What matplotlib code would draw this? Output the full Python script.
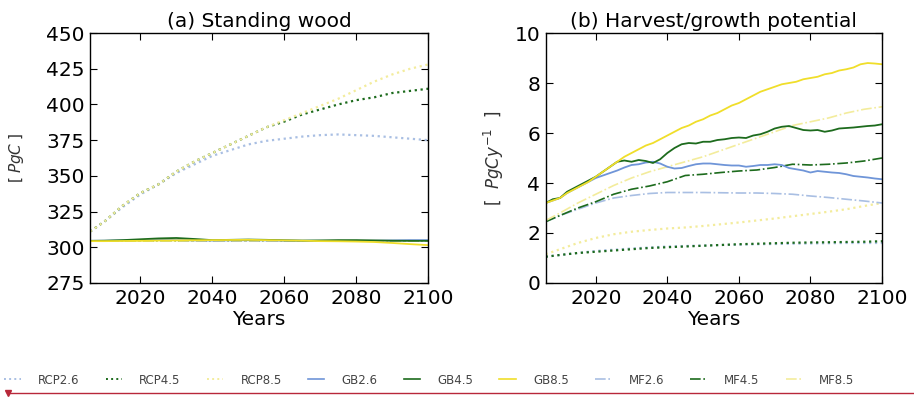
import matplotlib
matplotlib.use("Agg")
import matplotlib.pyplot as plt
from matplotlib.lines import Line2D

# ---------------- data ----------------
years2 = list(range(2006, 2101, 2))
years5 = [2006, 2010, 2015, 2020, 2025, 2030, 2035, 2040, 2045, 2050,
          2055, 2060, 2065, 2070, 2075, 2080, 2085, 2090, 2095, 2100]

# (a) Standing wood [PgC]
sw_rcp26 = [311, 318, 328, 337, 344, 352, 358, 364, 368, 372,
            374.5, 376, 377.5, 378.5, 379, 378.5, 378, 377, 376, 375]
sw_rcp45 = [311, 318, 329, 338, 344, 353, 360, 366, 372, 378,
            384, 388, 393, 396.5, 400, 403, 405, 408, 409.5, 411]
sw_rcp85 = [311, 318, 329, 338, 344, 353, 360, 366, 372, 378,
            384, 389, 394, 399, 404, 410, 416, 421, 425, 428]
sw_gb26 = [304.5, 304.6, 304.8, 305.0, 305.2, 305.0, 304.8, 304.7, 304.8, 304.9,
           304.8, 304.6, 304.5, 304.5, 304.4, 304.5, 304.6, 304.8, 305.0, 305.0]
sw_gb45 = [304.5, 304.6, 305.0, 305.6, 306.2, 306.5, 305.8, 305.0, 305.2, 305.4,
           305.2, 304.9, 304.7, 304.8, 305.0, 305.0, 304.8, 304.6, 304.5, 304.5]
sw_gb85 = [304.3, 304.3, 304.4, 304.5, 304.7, 304.8, 304.9, 305.0, 305.1, 305.2,
           305.0, 304.8, 304.6, 304.3, 304.2, 304.0, 303.7, 303.0, 302.2, 301.5]
sw_mf26 = [304.2] * 20
sw_mf45 = [304.3] * 20
sw_mf85 = [304.1] * 20

# (b) Harvest/growth potential [PgC y^-1]
hg_gb26 = [3.20, 3.30, 3.40, 3.60, 3.75, 3.90, 4.05, 4.20, 4.30, 4.40, 4.50, 4.62,
           4.72, 4.75, 4.82, 4.85, 4.78, 4.65, 4.58, 4.60, 4.68, 4.75, 4.78, 4.78,
           4.75, 4.72, 4.70, 4.70, 4.65, 4.68, 4.72, 4.72, 4.75, 4.72, 4.60, 4.55,
           4.50, 4.42, 4.48, 4.45, 4.42, 4.40, 4.35, 4.28, 4.25, 4.22, 4.18, 4.15]
hg_gb45 = [3.20, 3.35, 3.40, 3.65, 3.80, 3.95, 4.10, 4.25, 4.45, 4.65, 4.85, 4.90,
           4.85, 4.92, 4.88, 4.80, 4.95, 5.20, 5.40, 5.55, 5.60, 5.58, 5.65, 5.65,
           5.72, 5.75, 5.80, 5.82, 5.80, 5.90, 5.95, 6.05, 6.18, 6.25, 6.28, 6.20,
           6.12, 6.10, 6.12, 6.05, 6.10, 6.18, 6.20, 6.22, 6.25, 6.28, 6.30, 6.35]
hg_gb85 = [3.20, 3.30, 3.40, 3.60, 3.75, 3.90, 4.05, 4.25, 4.45, 4.65, 4.85, 5.05,
           5.20, 5.35, 5.50, 5.60, 5.75, 5.90, 6.05, 6.20, 6.30, 6.45, 6.55, 6.70,
           6.80, 6.95, 7.10, 7.20, 7.35, 7.50, 7.65, 7.75, 7.85, 7.95, 8.00, 8.05,
           8.15, 8.20, 8.25, 8.35, 8.40, 8.50, 8.55, 8.62, 8.75, 8.80, 8.78, 8.75]
hg_mf26 = [2.45, 2.70, 2.95, 3.20, 3.40, 3.50, 3.58, 3.62, 3.62, 3.62,
           3.61, 3.60, 3.60, 3.58, 3.55, 3.48, 3.42, 3.35, 3.28, 3.20]
hg_mf45 = [2.45, 2.70, 3.00, 3.25, 3.55, 3.75, 3.88, 4.05, 4.30, 4.35,
           4.42, 4.48, 4.52, 4.62, 4.75, 4.72, 4.75, 4.80, 4.88, 5.00]
hg_mf85 = [2.50, 2.80, 3.20, 3.55, 3.90, 4.20, 4.45, 4.65, 4.85, 5.05,
           5.30, 5.55, 5.80, 6.05, 6.30, 6.45, 6.60, 6.80, 6.95, 7.05]
hg_rcp26 = [1.05, 1.12, 1.20, 1.28, 1.33, 1.38, 1.42, 1.46, 1.48, 1.50,
            1.52, 1.53, 1.55, 1.56, 1.57, 1.58, 1.59, 1.60, 1.60, 1.60]
hg_rcp45 = [1.05, 1.12, 1.20, 1.25, 1.30, 1.35, 1.40, 1.43, 1.46, 1.49,
            1.52, 1.55, 1.57, 1.59, 1.61, 1.62, 1.63, 1.64, 1.65, 1.67]
hg_rcp85 = [1.15, 1.35, 1.60, 1.80, 1.95, 2.05, 2.12, 2.18, 2.22, 2.28,
            2.35, 2.42, 2.50, 2.58, 2.67, 2.76, 2.85, 2.95, 3.08, 3.20]

labels = ["RCP2.6", "RCP4.5", "RCP8.5", "GB2.6", "GB4.5", "GB8.5",
          "MF2.6", "MF4.5", "MF8.5"]

# ---------------- style ----------------
c26 = "#6f95d8"
c26l = "#a9bfe3"
c45 = "#1d6b1d"
c85 = "#f0de2a"
c85l = "#f3ec9c"

FS = 14.5
plt.rcParams["font.family"] = ["DejaVu Sans"]
fig = plt.figure(figsize=(9.14, 3.98), dpi=100)
ax1 = fig.add_axes([0.0985, 0.289, 0.370, 0.628])
ax2 = fig.add_axes([0.597, 0.289, 0.368, 0.628])

def style(ax):
    ax.tick_params(direction="in", top=True, right=True, length=5, width=0.8,
                   labelsize=FS, pad=4)
    for s in ax.spines.values():
        s.set_linewidth(1.0)
    ax.set_xlim(2006, 2100)
    ax.set_xticks([2020, 2040, 2060, 2080, 2100])
    ax.set_xlabel("Years", fontsize=FS, labelpad=2)

# (a)
ax1.plot(years5, sw_rcp26, ls=":", lw=1.6, color=c26l)
ax1.plot(years5, sw_rcp45, ls=":", lw=1.6, color=c45)
ax1.plot(years5, sw_rcp85, ls=":", lw=1.6, color=c85l)
ax1.plot(years5, sw_mf26, ls="-.", lw=1.2, color=c26l)
ax1.plot(years5, sw_mf45, ls="-.", lw=1.2, color=c45)
ax1.plot(years5, sw_mf85, ls="-.", lw=1.2, color=c85l)
ax1.plot(years5, sw_gb26, ls="-", lw=1.3, color=c26)
ax1.plot(years5, sw_gb45, ls="-", lw=1.3, color=c45)
ax1.plot(years5, sw_gb85, ls="-", lw=1.3, color=c85)
ax1.set_ylim(275, 450)
ax1.set_yticks(range(275, 451, 25))
ax1.set_title("(a) Standing wood", fontsize=FS, pad=4)
ax1.set_ylabel(r"$[\;PgC\;]$", fontsize=11, labelpad=14, color="#333333")
style(ax1)

# (b)
ax2.plot(years5, hg_rcp26, ls=":", lw=1.6, color=c26l)
ax2.plot(years5, hg_rcp45, ls=":", lw=1.6, color=c45)
ax2.plot(years5, hg_rcp85, ls=":", lw=1.6, color=c85l)
ax2.plot(years5, hg_mf26, ls="-.", lw=1.2, color=c26l)
ax2.plot(years5, hg_mf45, ls="-.", lw=1.2, color=c45)
ax2.plot(years5, hg_mf85, ls="-.", lw=1.2, color=c85l)
ax2.plot(years2, hg_gb26, ls="-", lw=1.3, color=c26)
ax2.plot(years2, hg_gb45, ls="-", lw=1.3, color=c45)
ax2.plot(years2, hg_gb85, ls="-", lw=1.3, color=c85)
ax2.set_ylim(0, 10)
ax2.set_yticks(range(0, 11, 2))
ax2.set_title("(b) Harvest/growth potential", fontsize=FS, pad=4)
ax2.set_ylabel(r"$[\ \ PgCy^{-1}\ \ ]$", fontsize=12, labelpad=6, color="#333333")
style(ax2)

# legend
handles = [
    Line2D([], [], ls=":", lw=1.4, color=c26l),
    Line2D([], [], ls=":", lw=1.4, color=c45),
    Line2D([], [], ls=":", lw=1.4, color=c85l),
    Line2D([], [], ls="-", lw=1.2, color=c26),
    Line2D([], [], ls="-", lw=1.2, color=c45),
    Line2D([], [], ls="-", lw=1.2, color=c85),
    Line2D([], [], ls="-.", lw=1.2, color=c26l),
    Line2D([], [], ls="-.", lw=1.2, color=c45),
    Line2D([], [], ls="-.", lw=1.2, color=c85l),
]
fig.legend(handles, labels, loc="center left", bbox_to_anchor=(-0.007, 0.045),
           ncol=9, frameon=False, fontsize=8.5, handlelength=1.4,
           handletextpad=1.45, columnspacing=2.22, labelcolor="#444444")

# red marker line at bottom
fig.add_artist(Line2D([0.009, 1.0], [0.013, 0.013], color="#b8283a", lw=1.0,
                      transform=fig.transFigure))
fig.add_artist(Line2D([0.009], [0.013], marker="v", markersize=5,
                      color="#b8283a", transform=fig.transFigure))

fig.savefig("out.png", dpi=100, facecolor="white")
